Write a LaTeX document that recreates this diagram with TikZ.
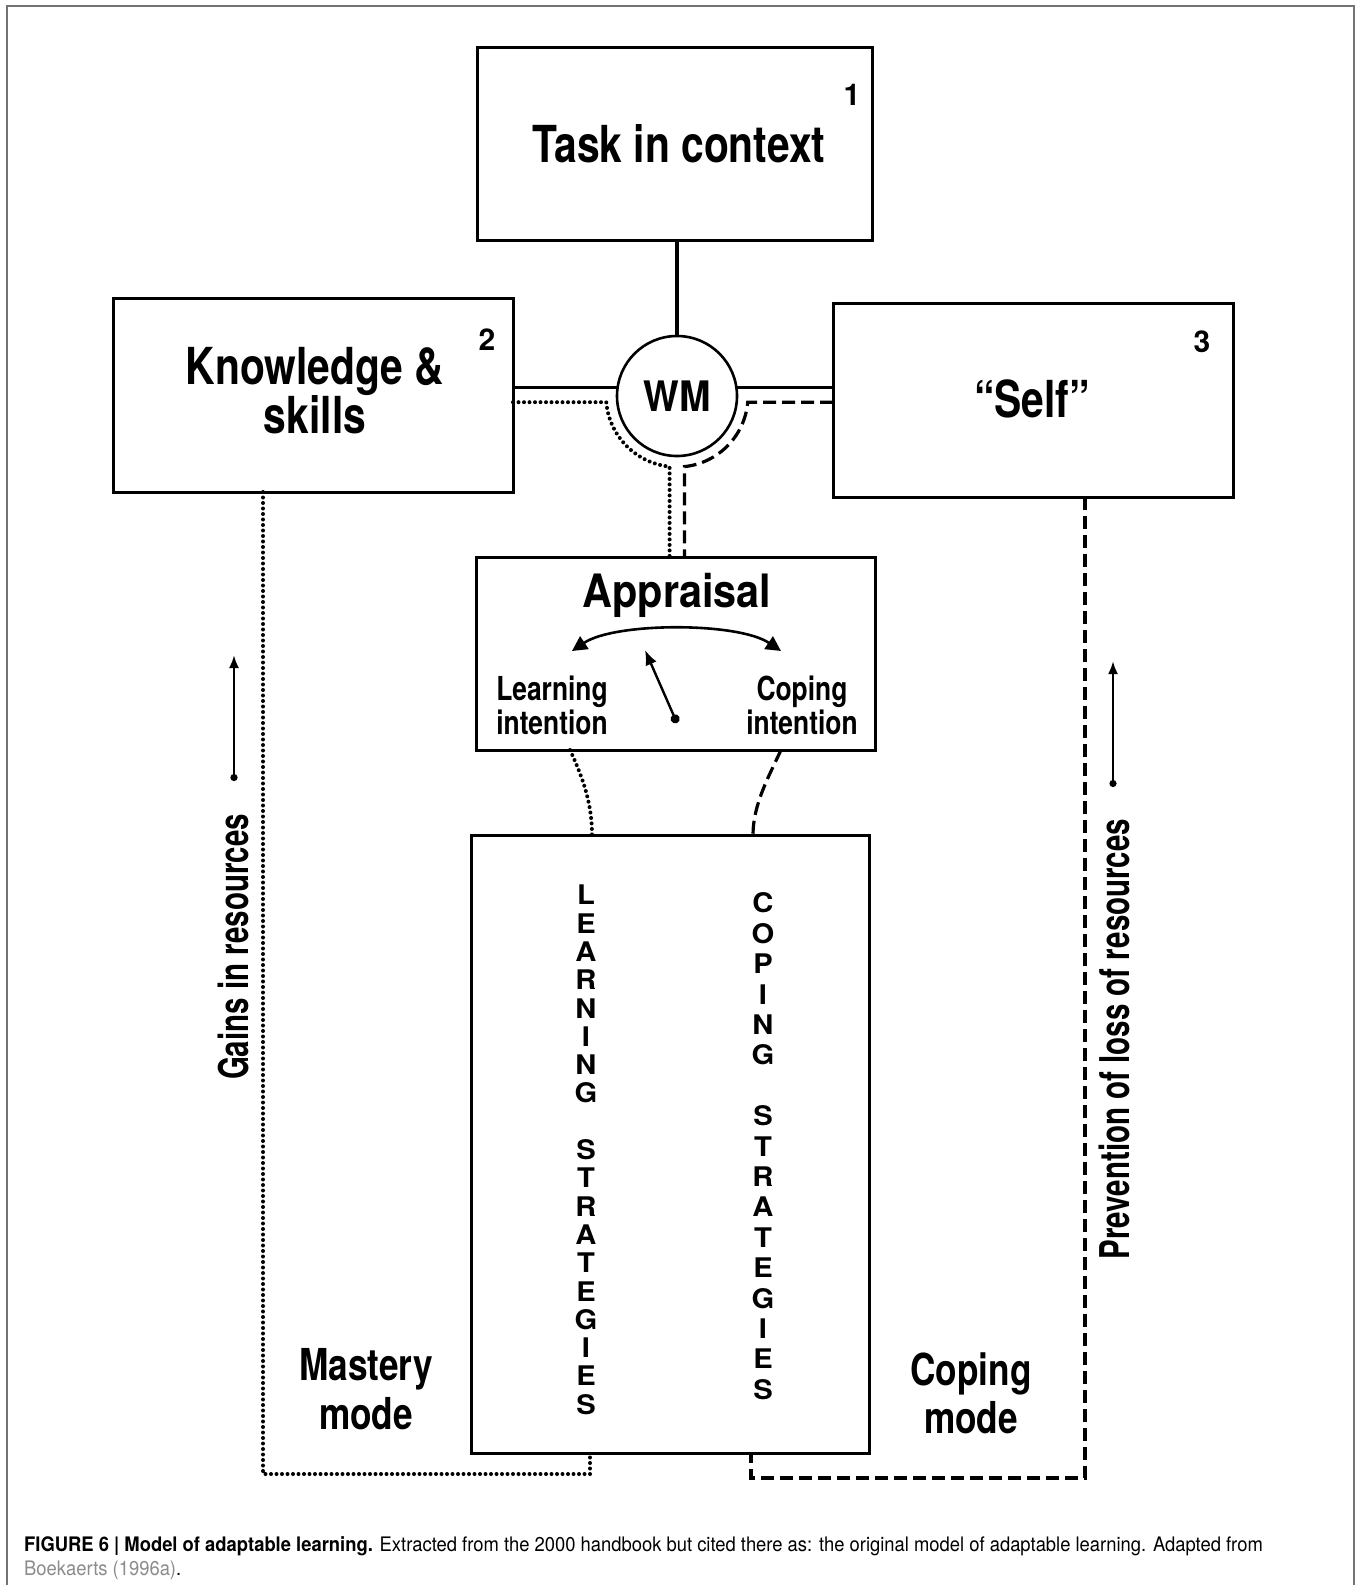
\documentclass[tikz,border=0pt]{standalone}
\usepackage{fontspec}
\setmainfont{TeX Gyre Heros}
\newfontfamily\hvA[FakeStretch=0.80]{TeX Gyre Heros}
\newfontfamily\hvB[FakeStretch=0.90]{TeX Gyre Heros}
\newfontfamily\hvC[FakeStretch=0.72]{TeX Gyre Heros}
\newfontfamily\hvW[FakeStretch=1.08]{TeX Gyre Heros}
\newfontfamily\capfont[FakeStretch=0.92]{TeX Gyre Heros}
\usetikzlibrary{arrows.meta,calc}
\definecolor{framegray}{gray}{0.45}
\definecolor{linkgray}{gray}{0.55}
\begin{document}
\begin{tikzpicture}[x=1pt,y=1pt,
  box/.style={draw, line width=3pt, inner sep=0pt, outer sep=0pt},
  big/.style={font=\hvA\bfseries\fontsize{51}{51}\selectfont, inner sep=0pt},
  mid/.style={font=\hvB\bfseries\fontsize{46}{46}\selectfont, inner sep=0pt},
  small/.style={font=\hvA\bfseries\fontsize{33}{33}\selectfont, inner sep=0pt},
  modetxt/.style={font=\hvA\bfseries\fontsize{44}{44}\selectfont, inner sep=0pt},
  rottxt/.style={font=\hvC\bfseries\fontsize{41}{41}\selectfont, inner sep=0pt, rotate=90},
  num/.style={font=\bfseries\fontsize{30}{30}\selectfont, inner sep=0pt},
  letter/.style={font=\hvW\bfseries\fontsize{27}{27}\selectfont, inner sep=0pt},
  capt/.style={font=\capfont\fontsize{20}{20}\selectfont, inner sep=0pt},
  conn/.style={line width=3.2pt},
  dotline/.style={line width=4pt, dash pattern=on 0pt off 5.5pt, line cap=round},
  dashline/.style={line width=3.2pt, dash pattern=on 13pt off 6pt},
  smallarrow/.style={line width=2.5pt, {Circle[length=7pt]}-{Latex[length=13pt,width=10pt]}}
]
\useasboundingbox (0,0) rectangle (1360,-1585);
\fill[white] (0,0) rectangle (1360,-1585);

% outer frame
\draw[framegray, line width=1.5pt] (7,-1585) -- (7,-6) -- (1354,-6) -- (1354,-1585);

% the three resource boxes and working memory
\node[box, minimum width=395pt, minimum height=193pt] (task) at (674.5,-143.5) {};
\node[box, minimum width=400pt, minimum height=194pt] (know) at (313,-395) {};
\node[box, minimum width=400pt, minimum height=194pt] (self) at (1033,-400) {};
\node[draw, circle, line width=2.6pt, minimum size=120pt, inner sep=0pt, outer sep=0pt,
      font=\hvB\bfseries\fontsize{42}{42}\selectfont] (wm) at (677,-396) {WM};

\node[big, anchor=base] (tasktxt) at (679,-162) {Task in context};
\node[num, anchor=base] (n1) at (852,-105) {1};
\node[big, anchor=base] (know1) at (315,-384) {Knowledge \&};
\node[big, anchor=base] (know2) at (315,-433) {skills};
\node[num, anchor=base] (n2) at (487,-350) {2};
\node[big, anchor=base] (selftxt) at (1032,-417) {“Self”};
\node[num, anchor=base] (n3) at (1202,-352) {3};

% appraisal and strategies
\node[box, minimum width=399pt, minimum height=193pt] (appr) at (675.5,-653.5) {};
\node[box, minimum width=398pt, minimum height=618pt] (strat) at (670,-1144) {};

% solid links to WM
\draw[conn] (task.south -| wm.north) -- (wm.north);
\draw[conn] (know.east |- wm.172) -- (wm.172);
\draw[conn] (wm.8) -- (self.west |- wm.8);

% mastery (dotted) and coping (dashed) routes around WM
\coordinate (dotA) at ($(wm.center)+(185:71)$);
\coordinate (dotB) at ($(wm.center)+(264:71)$);
\coordinate (dashA) at ($(wm.center)+(-5:71)$);
\coordinate (dashB) at ($(wm.center)+(-84:71)$);
\draw[dotline] (know.east |- dotA) -- (dotA) arc[start angle=185, end angle=264, radius=71] -- (dotB |- appr.north);
\draw[dashline] (self.west |- dashA) -- (dashA) arc[start angle=-5, end angle=-84, radius=71] -- (dashB |- appr.north);

% appraisal content
\node[mid, anchor=base] (apptxt) at (677,-607) {Appraisal};
\coordinate (swL) at (572,-651);
\coordinate (swR) at (781,-651);
\draw[line width=2.6pt, {Triangle[length=15pt,width=15pt]}-{Triangle[length=15pt,width=15pt]}]
  (swL) .. controls (615,-622) and (738,-622) .. (swR);
\coordinate (pivot) at (677,-723);
\coordinate (needle) at (645,-650);
\draw[line width=2.4pt, {Circle[length=9pt]}-{Latex[length=15pt,width=12pt]}] (pivot) -- (needle);
\node[small, anchor=base] (learn1) at (552,-700) {Learning};
\node[small, anchor=base] (learn2) at (552,-734) {intention};
\node[small, anchor=base] (cope1) at (802,-700) {Coping};
\node[small, anchor=base] (cope2) at (802,-734) {intention};

% appraisal to strategies
\draw[dotline] (appr.south -| 570,0) .. controls (584,-780) and (592,-805) .. (strat.north -| 592,0);
\draw[dashline] (appr.south -| 781,0) .. controls (768,-778) and (753,-805) .. (strat.north -| 753,0);

% vertical strategy labels
\foreach \ch [count=\k from 0] in {L,E,A,R,N,I,N,G,{},S,T,R,A,T,E,G,I,E,S}
  \node[letter] (ls\k) at (586,{-895-28.3*\k}) {\ch};
\foreach \ch [count=\k from 0] in {C,O,P,I,N,G,{},S,T,R,A,T,E,G,I,E,S}
  \node[letter] (cs\k) at (763,{-903-30.4*\k}) {\ch};

% return routes
\draw[dotline] (know.south -| 263,0) -- (263,-1474) -- (590,-1474) -- (strat.south -| 590,0);
\draw[dashline] (self.south -| 1085,0) -- (1085,-1478) -- (751,-1478) -- (strat.south -| 751,0);

% mode labels
\node[modetxt, anchor=base] (mast1) at (366,-1380) {Mastery};
\node[modetxt, anchor=base] (mast2) at (366,-1429) {mode};
\node[modetxt, anchor=base] (cmode1) at (971,-1385) {Coping};
\node[modetxt, anchor=base] (cmode2) at (971,-1433) {mode};

% resource arrows
\node[rottxt] (gains) at (233,-947) {Gains in resources};
\node[rottxt] (prev) at (1114,-1039) {Prevention of loss of resources};
\coordinate (gLow) at (234,-781);
\coordinate (gTop) at (234,-655);
\coordinate (pLow) at (1113,-787);
\coordinate (pTop) at (1113,-661);
\draw[smallarrow] (gLow) -- (gTop);
\draw[smallarrow] (pLow) -- (pTop);

% caption
\node[capt, anchor=base west] (cap1) at (24,-1551)
  {\textbf{FIGURE 6 | Model of adaptable learning.} Extracted from the 2000 handbook but cited there as: the original model of adaptable learning. Adapted from};
\node[capt, anchor=base west] (cap2) at (24,-1575) {\textcolor{linkgray}{Boekaerts (1996a)}.};
\end{tikzpicture}
\end{document}
